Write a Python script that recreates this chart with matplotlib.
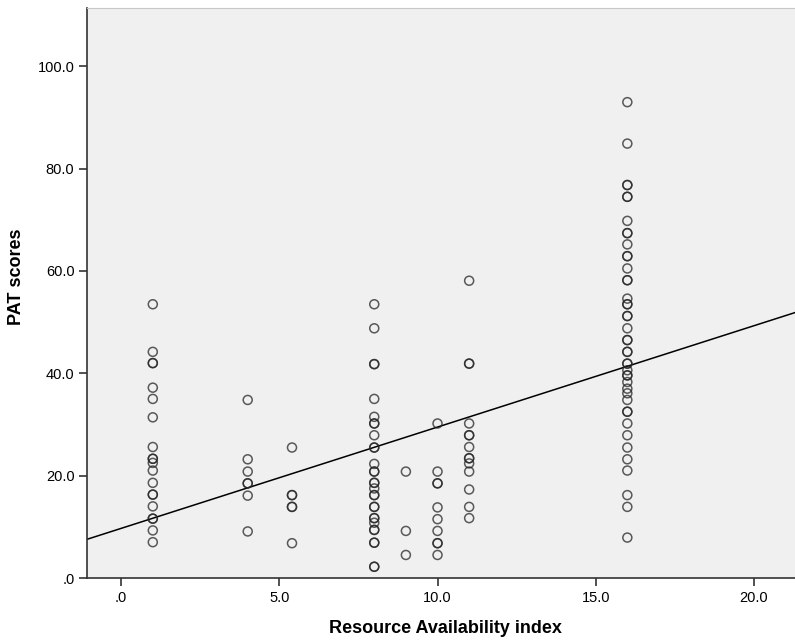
import numpy as np
import matplotlib
matplotlib.use("Agg")
import matplotlib.pyplot as plt

# Resource availability index (x) and PAT scores (y)
x_vals = [1, 4, 5.4, 8, 9, 10, 11, 16]
pat_scores = [
    [53.5, 44.2, 42.0, 42.0, 37.2, 35.0, 31.4, 25.6, 23.3, 23.3, 22.5, 21.0,
     18.6, 16.3, 16.3, 14.0, 11.6, 11.6, 9.3, 7.0],
    [34.8, 23.2, 20.8, 18.5, 18.5, 16.1, 9.1],
    [25.5, 16.2, 16.2, 13.9, 13.9, 6.8],
    [53.5, 48.8, 41.8, 41.8, 35.0, 31.5, 30.2, 30.2, 27.9, 25.5, 25.5, 22.3,
     20.8, 20.8, 18.6, 18.6, 17.5, 16.2, 16.2, 13.9, 13.9, 11.7, 11.7, 10.8,
     9.4, 9.4, 6.9, 6.9, 2.2, 2.2],
    [20.8, 9.2, 4.5],
    [30.2, 20.8, 18.5, 18.5, 13.8, 11.5, 9.2, 6.8, 6.8, 4.5],
    [58.1, 41.9, 41.9, 30.2, 27.9, 27.9, 25.6, 23.4, 23.4, 22.4, 20.8, 17.3,
     13.9, 11.7],
    [93.0, 84.9, 76.8, 76.8, 74.5, 74.5, 69.8, 67.4, 67.4, 65.2, 62.9, 62.9,
     60.5, 58.2, 58.2, 54.6, 53.5, 53.5, 51.2, 51.2, 48.8, 46.5, 46.5, 44.2,
     44.2, 41.9, 41.9, 40.6, 39.6, 39.6, 38.3, 37.0, 36.1, 34.8, 32.5, 32.5,
     30.2, 27.9, 25.5, 23.2, 21.0, 16.2, 13.9, 7.9],
]

# fit line at total, as shown in the chart
fit_intercept = 9.7
fit_slope = 1.98

xs = np.concatenate([[xv] * len(ys) for xv, ys in zip(x_vals, pat_scores)])
ys = np.concatenate(pat_scores)

plt.rcParams['font.family'] = ['Liberation Sans Narrow', 'Liberation Sans', 'DejaVu Sans']

fig = plt.figure(figsize=(7.95, 6.43), dpi=100)
ax = fig.add_axes([87 / 795, 65 / 643, 708 / 795, 570 / 643])
ax.set_facecolor('#f0f0f0')

ax.scatter(xs, ys, s=42, facecolors='none', edgecolors=(0.15, 0.15, 0.15, 0.75),
           linewidths=1.1, zorder=3)

xlim = (-1.08, 21.3)
line_x = np.array(xlim)
ax.plot(line_x, fit_intercept + fit_slope * line_x, color='black', lw=1.1, zorder=2)

ax.set_xlim(*xlim)
ax.set_ylim(0, 111.4)

xticks = [0, 5, 10, 15, 20]
yticks = [0, 20, 40, 60, 80, 100]
ax.set_xticks(xticks)
ax.set_xticklabels(['.0', '5.0', '10.0', '15.0', '20.0'], fontsize=10.5)
ax.set_yticks(yticks)
ax.set_yticklabels(['.0', '20.0', '40.0', '60.0', '80.0', '100.0'], fontsize=10.5)
ax.tick_params(direction='out', length=6, width=1.2, color='#333333', pad=3)

for side in ['left', 'bottom']:
    ax.spines[side].set_color('#333333')
    ax.spines[side].set_linewidth(1.2)
ax.spines['top'].set_color('#c8c8c8')
ax.spines['top'].set_linewidth(0.8)
ax.spines['right'].set_visible(False)

ax.set_xlabel('Resource Availability index', fontsize=13, fontweight='bold')
ax.set_ylabel('PAT scores', fontsize=13, fontweight='bold')
ax.xaxis.set_label_coords(0.506, -0.074)
ax.yaxis.set_label_coords(-0.088, 0.528)

fig.savefig('out.png', dpi=100)
